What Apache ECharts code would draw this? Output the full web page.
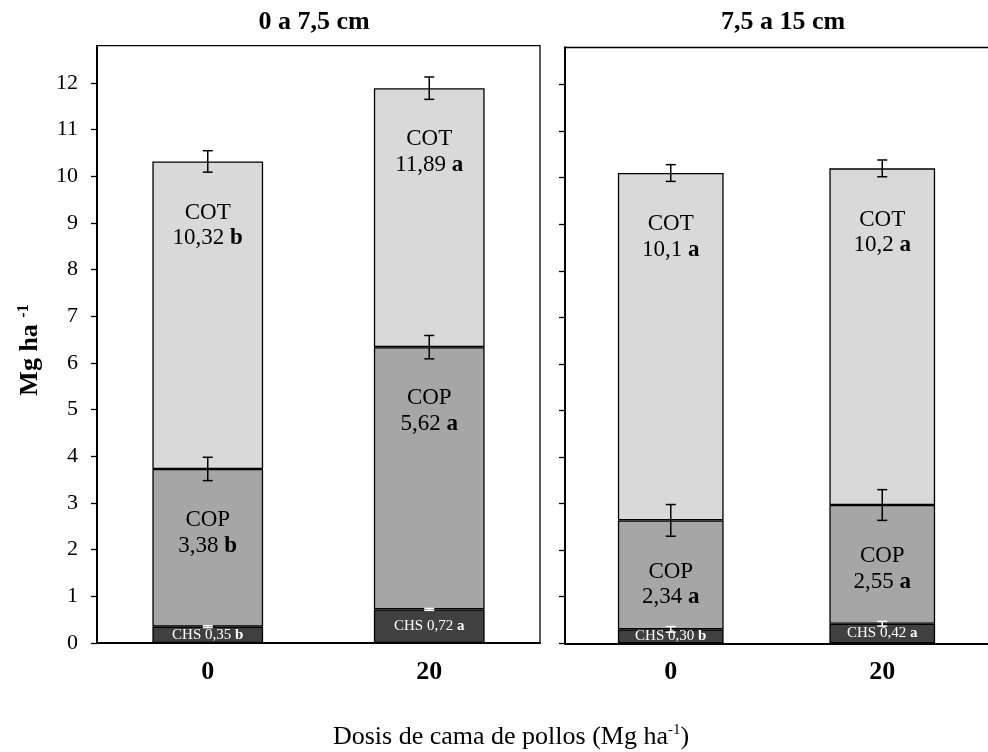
<!DOCTYPE html>
<html><head><meta charset="utf-8">
<script src="https://cdn.jsdelivr.net/npm/echarts@6/dist/echarts.min.js"></script>
<style>html,body{margin:0;padding:0;background:#fff}#c{width:988px;height:752px}</style>
</head><body><div id="c"></div>
<script>
// ---------- data ----------
const categories = ['0', '20'];
const panelTitles = ['0 a 7,5 cm', '7,5 a 15 cm'];
const yTicks = [0, 1, 2, 3, 4, 5, 6, 7, 8, 9, 10, 11, 12];

// panel 1: 0 a 7,5 cm
const chs1 = [0.35, 0.72];
const cop1 = [3.38, 5.62];
const cot1 = [10.32, 11.89];
const chsErr1 = [0.02, 0.02];
const copErr1 = [0.25, 0.25];
const cotErr1 = [0.23, 0.24];
const chsLetter1 = ['b', 'a'];
const copLetter1 = ['b', 'a'];
const cotLetter1 = ['b', 'a'];

// panel 2: 7,5 a 15 cm
const chs2 = [0.30, 0.42];
const cop2 = [2.34, 2.55];
const cot2 = [10.1, 10.2];
const chsErr2 = [0.06, 0.05];
const copErr2 = [0.34, 0.33];
const cotErr2 = [0.18, 0.18];
const chsLetter2 = ['b', 'a'];
const copLetter2 = ['a', 'a'];
const cotLetter2 = ['a', 'a'];

// ---------- styles ----------
const FONT = '"Liberation Serif", "Times New Roman", serif';
const C_CHS = '#404040', C_COP = '#a6a6a6', C_COT = '#d9d9d9';
const fmt = (v, d) => v.toFixed(d).replace('.', ',');

const grids = [
  { left: 97, top: 45.7, width: 443, height: 597.3, show: true, borderColor: '#000', borderWidth: 1.3, backgroundColor: 'transparent' },
  { left: 565, top: 47.3, width: 424, height: 596, show: false }
];

function panel(idx, chs, cop, cot, chsE, copE, cotE, chsL, copL, cotL, cotDec) {
  const stack = 's' + idx;
  const base = { type: 'bar', xAxisIndex: idx, yAxisIndex: idx, stack: stack, barWidth: '50%', animation: false };
  const border = { borderColor: '#000', borderWidth: 1.3 };
  const richDark = {
    n: { fontSize: 23, fontFamily: FONT, color: '#000', lineHeight: 25.5 },
    b: { fontSize: 23, fontFamily: FONT, color: '#000', fontWeight: 'bold', lineHeight: 25.5 }
  };
  const richWhite = {
    n: { fontSize: 15, fontFamily: FONT, color: '#fff' },
    b: { fontSize: 15, fontFamily: FONT, color: '#fff', fontWeight: 'bold' }
  };
  const cotSeg = cot.map((v, i) => v - chs[i] - cop[i]);
  const errData = [];
  for (let i = 0; i < categories.length; i++) {
    errData.push({ value: [i, chs[i], chsE[i]], itemStyle: { color: '#fff' } });
    errData.push({ value: [i, chs[i] + cop[i], copE[i]], itemStyle: { color: '#000' } });
    errData.push({ value: [i, cot[i], cotE[i]], itemStyle: { color: '#000' } });
  }
  return [
    Object.assign({}, base, {
      name: 'CHS', data: chs,
      itemStyle: Object.assign({ color: C_CHS }, border),
      label: {
        show: true, position: 'inside', fontSize: 15, fontFamily: FONT, color: '#fff',
        formatter: p => `{n|CHS ${fmt(chs[p.dataIndex], 2)}} {b|${chsL[p.dataIndex]}}`,
        rich: richWhite
      }
    }),
    Object.assign({}, base, {
      name: 'COP', data: cop,
      itemStyle: Object.assign({ color: C_COP }, border),
      label: {
        show: true, position: 'insideTop', distance: 38.5, fontSize: 23, fontFamily: FONT, color: '#000',
        formatter: p => `{n|COP}\n{n|${fmt(cop[p.dataIndex], 2)}} {b|${copL[p.dataIndex]}}`,
        rich: richDark
      }
    }),
    Object.assign({}, base, {
      name: 'COT', data: cotSeg,
      itemStyle: Object.assign({ color: C_COT }, border),
      label: {
        show: true, position: 'insideTop', distance: 38.5, fontSize: 23, fontFamily: FONT, color: '#000',
        formatter: p => `{n|COT}\n{n|${fmt(cot[p.dataIndex], cotDec)}} {b|${cotL[p.dataIndex]}}`,
        rich: richDark
      }
    }),
    {
      type: 'custom', xAxisIndex: idx, yAxisIndex: idx, z: 10, animation: false,
      data: errData,
      renderItem: function (params, api) {
        const x = api.value(0), c = api.value(1), e = api.value(2);
        const pt = api.coord([x, c + e]);
        const pb = api.coord([x, c - e]);
        const col = api.visual('color');
        const hw = 5;
        const st = { stroke: col, lineWidth: 1.5 };
        return {
          type: 'group', children: [
            { type: 'line', shape: { x1: pt[0], y1: pt[1], x2: pb[0], y2: pb[1] }, style: st },
            { type: 'line', shape: { x1: pt[0] - hw, y1: pt[1], x2: pt[0] + hw, y2: pt[1] }, style: st },
            { type: 'line', shape: { x1: pb[0] - hw, y1: pb[1], x2: pb[0] + hw, y2: pb[1] }, style: st }
          ]
        };
      }
    }
  ];
}

const xAxes = grids.map((g, i) => ({
  type: 'category', gridIndex: i, data: categories,
  axisLine: { show: true, lineStyle: { color: '#000', width: 2 } },
  axisTick: { show: false },
  axisLabel: { color: '#000', fontFamily: FONT, fontSize: 26, fontWeight: 'bold', margin: 16 },
  splitLine: { show: false }
}));
// top frame line of the right panel (its right side lies outside the picture)
xAxes.push({
  type: 'category', gridIndex: 1, position: 'top', data: categories,
  axisLine: { show: true, lineStyle: { color: '#000', width: 1.3 } },
  axisTick: { show: false }, axisLabel: { show: false }, splitLine: { show: false }
});
const yAxes = grids.map((g, i) => ({
  type: 'value', gridIndex: i, min: 0, max: 12.8, interval: 1,
  axisLine: { show: true, lineStyle: { color: '#000', width: 2 } },
  axisTick: { show: true, inside: false, length: 6, customValues: yTicks, lineStyle: { color: '#000', width: 1.3 } },
  axisLabel: { show: i === 0, customValues: yTicks, color: '#000', fontFamily: FONT, fontSize: 22, margin: 19 },
  splitLine: { show: false }
}));

const option = {
  backgroundColor: '#fff',
  animation: false,
  grid: grids,
  xAxis: xAxes,
  yAxis: yAxes,
  series: [].concat(
    panel(0, chs1, cop1, cot1, chsErr1, copErr1, cotErr1, chsLetter1, copLetter1, cotLetter1, 2),
    panel(1, chs2, cop2, cot2, chsErr2, copErr2, cotErr2, chsLetter2, copLetter2, cotLetter2, 1)
  ),
  graphic: [
    { type: 'text', x: 314, y: 22, style: { text: panelTitles[0], fontSize: 26, fontWeight: 'bold', fontFamily: FONT, fill: '#000', align: 'center', verticalAlign: 'middle' } },
    { type: 'text', x: 783, y: 22, style: { text: panelTitles[1], fontSize: 26, fontWeight: 'bold', fontFamily: FONT, fill: '#000', align: 'center', verticalAlign: 'middle' } },
    {
      type: 'text', x: 30, y: 350, rotation: Math.PI / 2,
      style: {
        text: '{a|Mg ha }{s|-1}', align: 'center', verticalAlign: 'middle',
        rich: {
          a: { fontSize: 26, fontWeight: 'bold', fontFamily: FONT, fill: '#000', color: '#000', lineHeight: 28 },
          s: { fontSize: 16, fontWeight: 'bold', fontFamily: FONT, fill: '#000', color: '#000', lineHeight: 15, verticalAlign: 'top' }
        }
      }
    },
    {
      type: 'text', x: 511, y: 737,
      style: {
        text: '{a|Dosis de cama de pollos (Mg ha}{s|-1}{a|)}', align: 'center', verticalAlign: 'middle',
        rich: {
          a: { fontSize: 26, fontFamily: FONT, fill: '#000', color: '#000', lineHeight: 29 },
          s: { fontSize: 15, fontFamily: FONT, fill: '#000', color: '#000', lineHeight: 15, verticalAlign: 'top' }
        }
      }
    }
  ]
};

const chart = echarts.init(document.getElementById('c'), null, { renderer: 'canvas' });
chart.setOption(option);
</script>
</body></html>
